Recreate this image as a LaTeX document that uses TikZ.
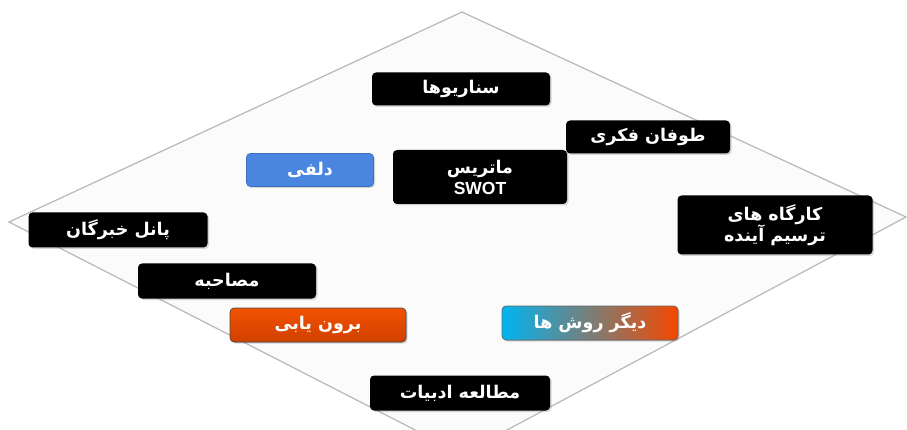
\documentclass[tikz,border=0pt]{standalone}
\usepackage{fontspec}
\TeXXeTstate=1
\setmainfont{DejaVu Sans}
\newfontfamily\fafont[Script=Arabic]{DejaVu Sans}
\newfontfamily\latinfont{Liberation Sans}
\usetikzlibrary{shadows}
\definecolor{dlblue}{HTML}{4A86E0}
\definecolor{dlblueedge}{HTML}{3A70C0}
\definecolor{ortop}{HTML}{F25200}
\definecolor{orbot}{HTML}{D04000}
\definecolor{gcyan}{HTML}{00B4F0}
\definecolor{gbrown}{HTML}{A8502C}
\definecolor{gorange}{HTML}{F54800}
\definecolor{edgegray}{HTML}{B8B8B8}
\begin{document}
\begin{tikzpicture}[x=1pt,y=-1pt,
  box/.style={rounded corners=4pt, fill=black, text=white, align=center,
    font=\fafont\bfseries\fontsize{17.5}{21}\selectfont, inner sep=0pt,
    drop shadow={shadow xshift=1.5pt, shadow yshift=-1.5pt, opacity=0.3}},
  bluebox/.style={box, fill=dlblue, draw=dlblueedge, line width=0.8pt},
  orbox/.style={box, top color=ortop, bottom color=orbot, draw=black!70, line width=0.6pt},
  gradbox/.style={box, left color=gcyan, middle color=gbrown, right color=gorange, draw=black!60, line width=0.6pt},
  edge/.style={draw=edgegray, line width=1.2pt}
]
\useasboundingbox (0,0) rectangle (907,430);
\clip (0,0) rectangle (907,430);
\fill[white] (0,0) rectangle (907,430);
\coordinate (T) at (462,12);
\coordinate (R) at (906,217);
\coordinate (B) at (462,454);
\coordinate (L) at (9,222);
\fill[black!1.5] (T) -- (R) -- (B) -- (L) -- cycle;
\draw[edge] (T) -- (R) -- (B) -- (L) -- cycle;

\node[box, minimum width=178pt, minimum height=33pt] (scen) at (461,89) {\beginR سناریوها\endR};
\node[box, minimum width=164pt, minimum height=33pt] (brain) at (648,137) {\beginR طوفان فکری\endR};
\node[bluebox, minimum width=127pt, minimum height=33pt] (delphi) at (310,170) {\beginR دلفی\endR};
\node[box, minimum width=174pt, minimum height=54pt] (swot) at (480,177) {\beginR ماتریس\endR\\{\latinfont\bfseries SWOT}};
\node[box, minimum width=195pt, minimum height=59pt] (work) at (775,225) {\beginR کارگاه های\endR\\\beginR ترسیم آینده\endR};
\node[box, minimum width=179pt, minimum height=35pt] (panel) at (118,230) {\beginR پانل خبرگان\endR};
\node[box, minimum width=178pt, minimum height=35pt] (interv) at (227,281) {\beginR مصاحبه\endR};
\node[orbox, minimum width=176pt, minimum height=34pt] (extra) at (318,325) {\beginR برون یابی\endR};
\node[gradbox, minimum width=176pt, minimum height=34pt] (other) at (590,323) {\beginR دیگر روش ها\endR};
\node[box, minimum width=180pt, minimum height=35pt] (lit) at (460,393) {\beginR مطالعه ادبیات\endR};
\end{tikzpicture}
\end{document}
